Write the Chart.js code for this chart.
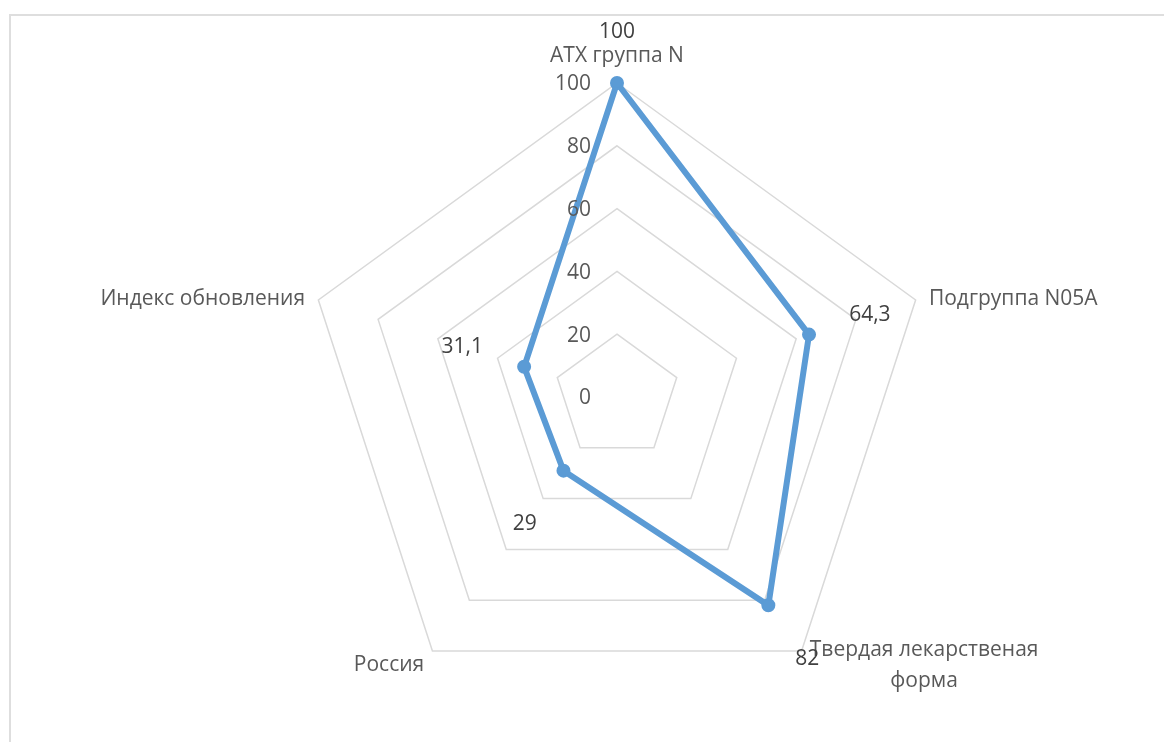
<!DOCTYPE html>
<html>
<head>
<meta charset="utf-8">
<script src="https://cdn.jsdelivr.net/npm/chart.js@4.4.1/dist/chart.umd.min.js"></script>
<style>
  html, body { margin: 0; padding: 0; background: #fff; }
  #wrap { position: relative; width: 1164px; height: 742px; overflow: hidden; }
  #frame { position: absolute; left: 9px; top: 14px; width: 1200px; height: 800px;
           border-top: 2px solid #DEDEDE; border-left: 2px solid #DEDEDE; box-sizing: border-box; }
  #c { position: absolute; left: 0; top: 0; }
</style>
</head>
<body>
<div id="wrap">
  <div id="frame"></div>
  <canvas id="c" width="1164" height="742"></canvas>
</div>
<script>
// ---- data ----
const categories = ['ATX группа N', 'Подгруппа N05A', ['Твердая лекарственая', 'форма'], 'Россия', 'Индекс обновления'];
const values = [100, 64.3, 82, 29, 31.1];
const valueLabels = ['100', '64,3', '82', '29', '31,1'];
const tickValues = [0, 20, 40, 60, 80, 100];

const FONT = '"Open Sans", "Noto Sans", sans-serif';
const FONT_SIZE = 21;

const labelsPlugin = {
  id: 'excelLabels',
  afterDatasetsDraw(chart) {
    const ctx = chart.ctx;
    const scale = chart.scales.r;
    ctx.save();
    ctx.font = FONT_SIZE + 'px ' + FONT;

    // tick labels, right-aligned left of the vertical axis
    ctx.fillStyle = '#595959';
    ctx.textAlign = 'right';
    ctx.textBaseline = 'middle';
    tickValues.forEach(t => {
      const d = scale.getDistanceFromCenterForValue(t);
      ctx.fillText(String(t), scale.xCenter - 26, scale.yCenter - d + 1.5);
    });

    // category labels
    const lineH = 31;
    categories.forEach((lab, i) => {
      const lines = Array.isArray(lab) ? lab : [lab];
      const p = scale.getPointPosition(i, scale.drawingArea + 14);
      const ang = p.angle;
      const cos = Math.cos(ang), sin = Math.sin(ang);
      const widths = lines.map(l => ctx.measureText(l).width);
      const maxW = Math.max(...widths);
      let left;
      if (cos > 0.1) left = p.x;
      else if (cos < -0.1) left = p.x - maxW;
      else left = p.x - maxW / 2;
      let top;
      const blockH = lineH * lines.length;
      if (sin < -0.9) top = p.y - 13 - (blockH - lineH);
      else top = p.y - blockH / 2 + lineH / 2 + 3;
      ctx.textAlign = 'left';
      ctx.textBaseline = 'middle';
      ctx.fillStyle = '#595959';
      lines.forEach((l, k) => {
        ctx.fillText(l, left + (maxW - widths[k]) / 2, top + k * lineH);
      });
    });

    // data labels along each axis, beyond the point
    const gaps = [51, 64, 66, 66, 65];
    ctx.fillStyle = '#404040';
    ctx.textAlign = 'center';
    ctx.textBaseline = 'middle';
    values.forEach((v, i) => {
      const d = scale.getDistanceFromCenterForValue(v) + gaps[i];
      const p = scale.getPointPosition(i, d);
      ctx.fillText(valueLabels[i], p.x, p.y);
    });
    ctx.restore();
  }
};

new Chart(document.getElementById('c'), {
  type: 'radar',
  data: {
    labels: categories,
    datasets: [{
      data: values,
      borderColor: '#5B9BD5',
      backgroundColor: '#5B9BD5',
      borderWidth: 6,
      fill: false,
      tension: 0,
      pointRadius: 6,
      pointBorderWidth: 2,
      pointBackgroundColor: '#5B9BD5',
      pointBorderColor: '#5B9BD5'
    }]
  },
  options: {
    responsive: false,
    animation: false,
    layout: { padding: { top: 83, bottom: 31, left: 150, right: 80 } },
    plugins: { legend: { display: false }, tooltip: { enabled: false } },
    scales: {
      r: {
        min: 0,
        max: 100,
        ticks: { stepSize: 20, display: false },
        grid: { color: '#D9D9D9', lineWidth: 1.5 },
        angleLines: { display: false },
        pointLabels: { display: false }
      }
    }
  },
  plugins: [labelsPlugin]
});
</script>
</body>
</html>
